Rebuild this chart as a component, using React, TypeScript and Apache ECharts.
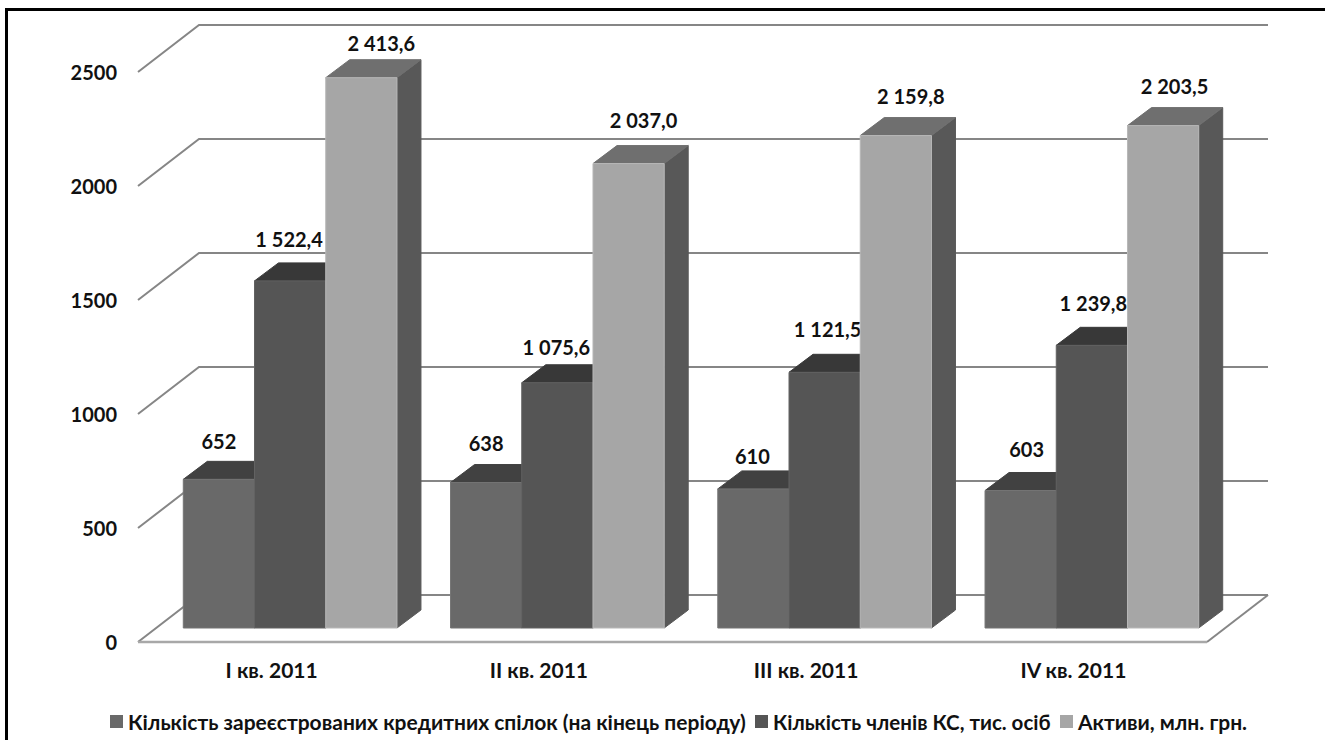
import React, { useEffect, useRef } from "react";
import * as echarts from "echarts";

const quarters = ["I кв. 2011", "II кв. 2011", "III кв. 2011", "IV кв. 2011"];
const unions = [652, 638, 610, 603];
const members = [1522.4, 1075.6, 1121.5, 1239.8];
const assets = [2413.6, 2037.0, 2159.8, 2203.5];
const unionLabels = ["652", "638", "610", "603"];
const memberLabels = ["1 522,4", "1 075,6", "1 121,5", "1 239,8"];
const assetLabels = ["2 413,6", "2 037,0", "2 159,8", "2 203,5"];
const axisTicks = [0, 500, 1000, 1500, 2000, 2500];
const seriesNames = [
  "Кількість зареєстрованих кредитних спілок (на кінець періоду)",
  "Кількість членів КС, тис. осіб",
  "Активи, млн. грн.",
];

const FONT = "Lato";
const INK = "#111111";

// Oblique projection of the chart box, in pixels
const WALL_DX = 61;
const WALL_DY = 47;
const BAR_SHIFT_X = 18.5;
const BAR_SHIFT_Y = 14;
const BAR_DX = 24;
const BAR_DY = 18;
const BAR_BAND_SHARE = 0.2665;

const palettes = [
  { front: "#696969", top: "#414141", side: "#4a4a4a", edge: "#757575" },
  { front: "#555555", top: "#383838", side: "#3e3e3e", edge: "#626262" },
  { front: "#a6a6a6", top: "#6f6f6f", side: "#585858", edge: "#b8b8b8" },
];

// Value labels sit by hand above each bar: [dx, dy] from the front top edge's midpoint
const labelPlacement = [
  [[0, 38], [0, 40], [-1, 33], [6, 42]],
  [[-1, 42], [-1, 36], [3, 43], [1.5, 42]],
  [[20, 35], [15, 44], [15, 40], [11.5, 40]],
];

function wallItem(params: any, api: any) {
  const sys = params.coordSys;
  const y = api.coord([0, api.value(1)])[1];
  const left = sys.x;
  const right = sys.x + sys.width;
  const lineStyle = { stroke: "#868686", lineWidth: 2, fill: "none" };
  const children: any[] = [
    {
      type: "polyline",
      shape: {
        points: [
          [left, y],
          [left + WALL_DX, y - WALL_DY],
          [right + WALL_DX, y - WALL_DY],
        ],
      },
      style: lineStyle,
    },
  ];
  if (api.value(1) === 0) {
    children.push({
      type: "line",
      shape: { x1: right + WALL_DX, y1: y - WALL_DY, x2: right, y2: y },
      style: lineStyle,
    });
    children.push({
      type: "line",
      shape: { x1: left, y1: y, x2: right, y2: y },
      style: { stroke: "#a8a8a8", lineWidth: 2.5 },
    });
  }
  return { type: "group", children };
}

function barRenderer(seriesIndex: number, labels: string[]) {
  return (_params: any, api: any) => {
    const index = api.value(0);
    const base = api.coord([index, 0]);
    const top = api.coord([index, api.value(1)]);
    const width = api.size([1, 0])[0] * BAR_BAND_SHARE;
    const x0 = base[0] + BAR_SHIFT_X + (seriesIndex - 1.5) * width;
    const x1 = x0 + width;
    const y0 = base[1] - BAR_SHIFT_Y;
    const y1 = top[1] - BAR_SHIFT_Y;
    const colors = palettes[seriesIndex];
    const [labelDx, labelDy] = labelPlacement[seriesIndex][index];
    return {
      type: "group",
      children: [
        {
          type: "polygon",
          shape: {
            points: [
              [x1, y0],
              [x1 + BAR_DX, y0 - BAR_DY],
              [x1 + BAR_DX, y1 - BAR_DY],
              [x1, y1],
            ],
          },
          style: { fill: colors.side, stroke: colors.side, lineWidth: 1 },
        },
        {
          type: "polygon",
          shape: {
            points: [
              [x0, y1],
              [x0 + BAR_DX, y1 - BAR_DY],
              [x1 + BAR_DX, y1 - BAR_DY],
              [x1, y1],
            ],
          },
          style: { fill: colors.top, stroke: colors.top, lineWidth: 1 },
        },
        {
          type: "rect",
          shape: { x: x0, y: y1, width, height: y0 - y1 },
          style: { fill: colors.front, stroke: colors.edge, lineWidth: 1 },
        },
        {
          type: "text",
          style: {
            text: labels[index],
            x: (x0 + x1) / 2 + labelDx,
            y: y1 - labelDy,
            textAlign: "center",
            textVerticalAlign: "middle",
            fontFamily: FONT,
            fontWeight: "bold",
            fontSize: 20,
            fill: INK,
          },
        },
      ],
    };
  };
}

function barSeries(seriesIndex: number, values: number[], labels: string[]) {
  return {
    type: "custom",
    name: seriesNames[seriesIndex],
    z: 3 + seriesIndex,
    itemStyle: { color: palettes[seriesIndex].front },
    encode: { x: 0, y: 1 },
    renderItem: barRenderer(seriesIndex, labels),
    data: values.map((v, i) => [i, v]),
  };
}

function legendEntry(name: string, left: number, fontSize: number) {
  return {
    left,
    top: 706,
    itemWidth: 13,
    itemHeight: 13,
    icon: "rect",
    data: [name],
    textStyle: { color: INK, fontFamily: FONT, fontWeight: "bold", fontSize },
  };
}

export default function App() {
  const ref = useRef<HTMLDivElement>(null);

  useEffect(() => {
    const chart = echarts.init(ref.current!, undefined, { renderer: "svg" });
    chart.setOption({
      animation: false,
      backgroundColor: "#ffffff",
      textStyle: { fontFamily: FONT },
      grid: { left: 138, top: 72, width: 1069, height: 570, containLabel: false },
      xAxis: {
        type: "category",
        data: quarters,
        axisLine: { show: false },
        axisTick: { show: false },
        axisLabel: { margin: 17, color: INK, fontFamily: FONT, fontWeight: "bold", fontSize: 21 },
      },
      yAxis: {
        type: "value",
        min: 0,
        max: 2500,
        interval: 500,
        axisLine: { show: false },
        axisTick: { show: false },
        splitLine: { show: false },
        axisLabel: {
          margin: 21,
          color: INK,
          fontFamily: FONT,
          fontWeight: "bold",
          fontSize: 20,
          formatter: (v: number) => String(v),
        },
      },
      legend: [
        legendEntry(seriesNames[0], 105, 21),
        legendEntry(seriesNames[1], 750, 20.5),
        legendEntry(seriesNames[2], 1055, 21),
      ],
      graphic: [
        {
          type: "polyline",
          shape: { points: [[6.5, 740], [6.5, 9.5], [1325, 9.5]] },
          style: { stroke: "#000000", lineWidth: 3, fill: "none" },
          silent: true,
        },
      ],
      series: [
        {
          type: "custom",
          z: 1,
          silent: true,
          encode: { x: 0, y: 1 },
          renderItem: wallItem,
          data: axisTicks.map((t) => [0, t]),
        },
        barSeries(0, unions, unionLabels),
        barSeries(1, members, memberLabels),
        barSeries(2, assets, assetLabels),
      ],
    });
    return () => chart.dispose();
  }, []);

  return (
    <div
      ref={ref}
      style={{ position: "fixed", left: 0, top: 0, width: 1325, height: 740, background: "#fff" }}
    />
  );
}
